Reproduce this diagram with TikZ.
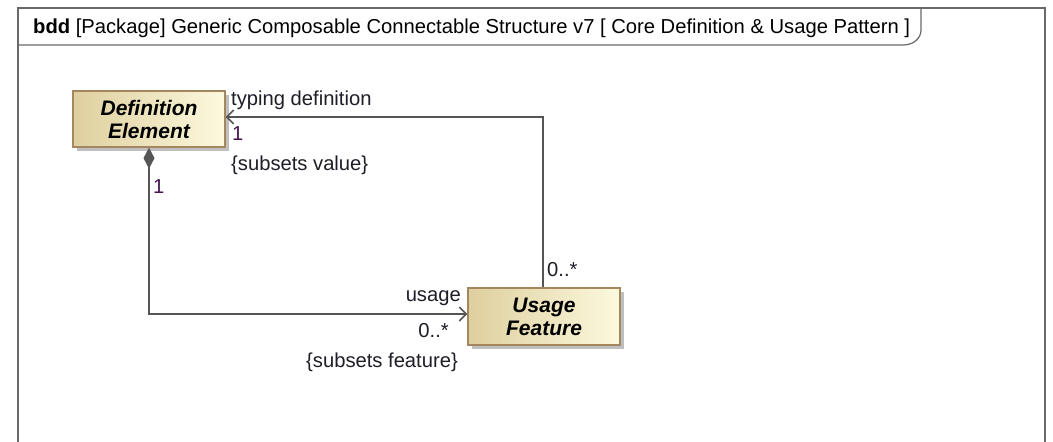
\documentclass[tikz,border=0pt]{standalone}
\usepackage{fontspec}
\setmainfont{Liberation Sans}
\usetikzlibrary{arrows.meta,shadows}
\definecolor{lineg}{RGB}{85,85,85}
\definecolor{frameg}{RGB}{105,105,105}
\definecolor{boxl}{RGB}{222,207,158}
\definecolor{boxr}{RGB}{252,249,222}
\definecolor{boxb}{RGB}{165,135,95}
\definecolor{mult}{RGB}{70,20,80}
\definecolor{lbl}{RGB}{30,30,40}
\tikzset{
  blockbox/.style={draw=boxb, line width=1.3pt, left color=boxl, right color=boxr,
    minimum width=152pt, minimum height=56pt, align=center, inner sep=0pt,
    font=\fontsize{21}{23}\selectfont\bfseries\itshape,
    drop shadow={shadow xshift=4pt, shadow yshift=-4pt, fill=black!25, opacity=1}},
  conn/.style={draw=lineg, line width=1.5pt},
  lab/.style={inner sep=0pt, text=lbl, font=\fontsize{20.2}{22}\selectfont},
  mlab/.style={lab, text=mult}
}
\begin{document}
\begin{tikzpicture}[x=1pt,y=-1pt]
\useasboundingbox (0,0) rectangle (1053,442);
\clip (0,0) rectangle (1053,442);
\fill[white] (0,0) rectangle (1053,442);
% frame
\draw[frameg, line width=1.2pt] (18,470) -- (18,8) -- (1045,8) -- (1045,470);
\draw[frameg, line width=1.2pt] (18,45) -- (903,45) .. controls (914,45) and (921,38) .. (921,30) -- (921,8);
\node[lab, text=black, anchor=base west, font=\fontsize{20.2}{22}\selectfont] (title) at (33,33.5) {\textbf{bdd} [Package] Generic Composable Connectable Structure v7 [ Core Definition \& Usage Pattern ]};
% blocks
\node[blockbox] (def) at (149,119) {Definition\\Element};
\node[blockbox, minimum height=57pt] (use) at (544,316.5) {Usage\\Feature};
% connector end points
\coordinate (useW) at ([yshift=2.5pt]use.west);
\coordinate (defE) at ([yshift=2pt]def.east);
\coordinate (useN) at ([xshift=-1pt]use.north);
% connectors
\draw[conn, {Diamond[length=21pt,width=11pt,fill=lineg]}-{Straight Barb[length=7pt,width=14pt,line width=1.5pt]}]
  (def.south) -- (def.south |- useW) -- (useW);
\draw[conn, -{Straight Barb[length=7pt,width=14pt,line width=1.5pt]}]
  (useN) -- (useN |- defE) -- (defE);
% labels
\node[lab, anchor=west] (l1) at (231,100) {typing definition};
\node[mlab, anchor=west] (l2) at (232,134) {1};
\node[lab, anchor=west] (l3) at (231,165) {\{subsets value\}};
\node[mlab, anchor=west] (l4) at (153,187) {1};
\node[lab, anchor=west] (l5) at (547,270) {0..*};
\node[lab, anchor=east] (l6) at (461,298) {usage};
\node[lab, anchor=east] (l7) at (449,331) {0..*};
\node[lab, anchor=east] (l8) at (458,362) {\{subsets feature\}};
\end{tikzpicture}
\end{document}
